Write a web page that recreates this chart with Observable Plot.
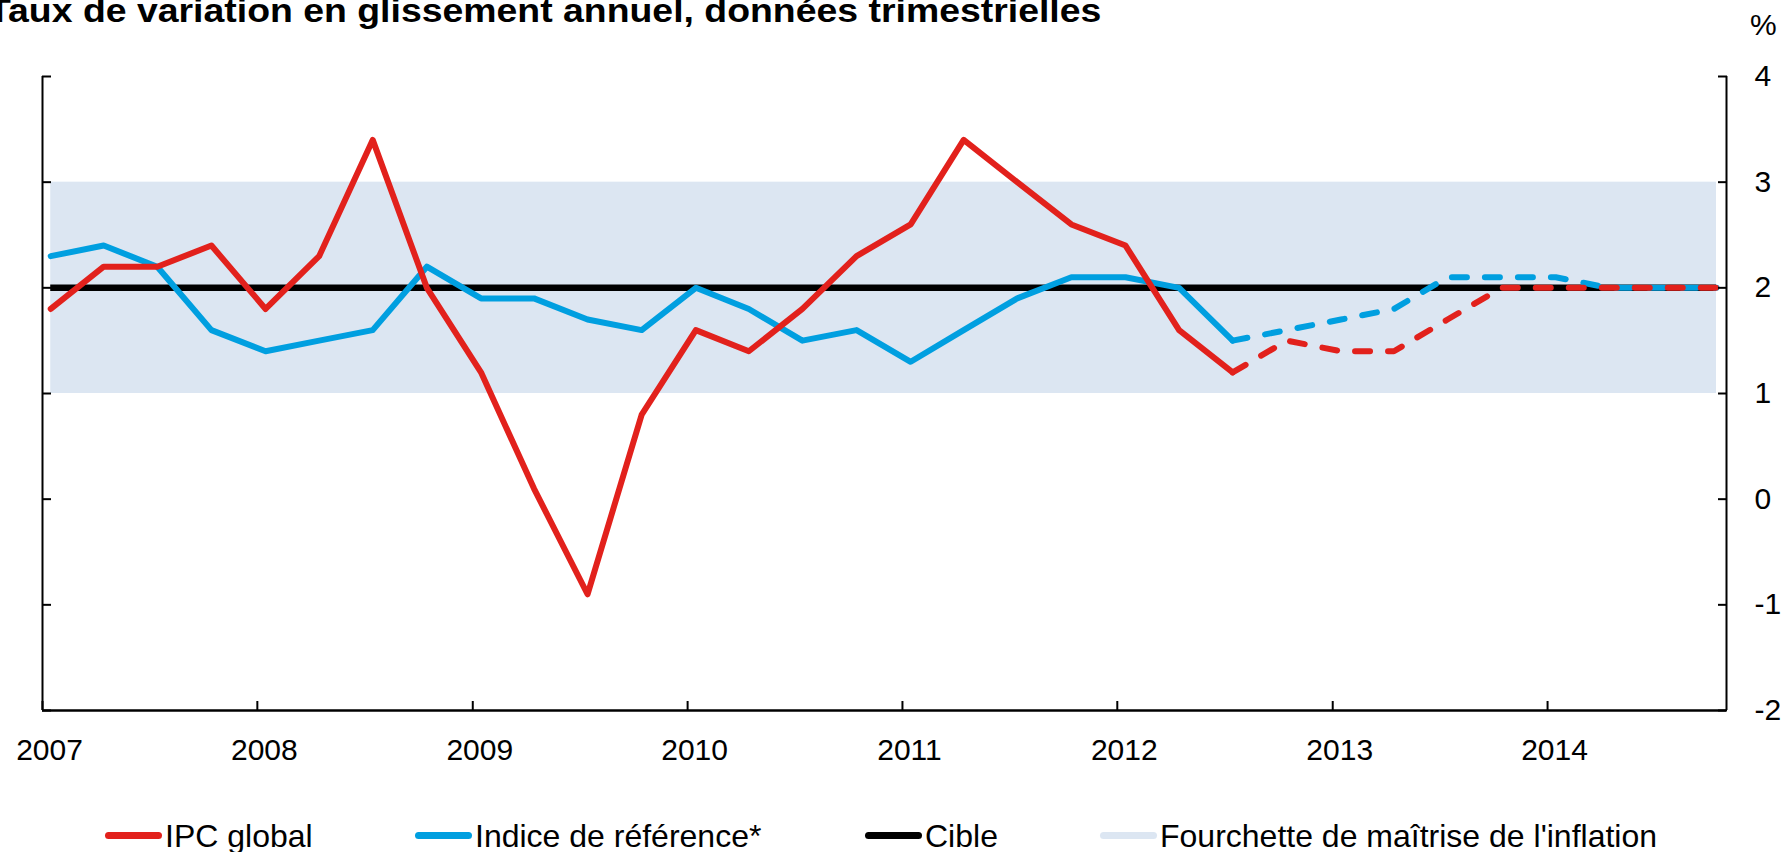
<!DOCTYPE html>
<html>
<head>
<meta charset="utf-8">
<script src="https://cdn.jsdelivr.net/npm/d3@7"></script>
<script src="https://cdn.jsdelivr.net/npm/@observablehq/plot@0.6"></script>
<style>
html,body{margin:0;padding:0;background:#fff;overflow:hidden;}
#wrap{position:relative;width:1783px;height:852px;overflow:hidden;font-family:"Liberation Sans",Arial,Helvetica,sans-serif;color:#000;}
#chart{position:absolute;left:0;top:0;}
#title{position:absolute;left:-12px;top:-7px;font-weight:bold;font-size:34px;line-height:34px;white-space:nowrap;transform-origin:0 0;transform:scaleX(1.10);}
#unit{position:absolute;left:1750px;top:10px;font-size:30px;line-height:30px;}
.leg{position:absolute;top:820px;height:32px;display:flex;align-items:flex-start;font-size:32px;line-height:32px;white-space:nowrap;}
.sw{width:57px;height:7px;border-radius:4px;margin-top:11.5px;margin-right:3px;}
</style>
</head>
<body>
<div id="wrap">
  <div id="chart"></div>
  <div id="title"></div>
  <div id="unit"></div>
  <div id="legend"></div>
</div>
<script>
// ---- data ----
const titleText = "Taux de variation en glissement annuel, données trimestrielles";
const unitText = "%";
const quarters = [
  "2007-01-15","2007-04-15","2007-07-15","2007-10-15",
  "2008-01-15","2008-04-15","2008-07-15","2008-10-15",
  "2009-01-15","2009-04-15","2009-07-15","2009-10-15",
  "2010-01-15","2010-04-15","2010-07-15","2010-10-15",
  "2011-01-15","2011-04-15","2011-07-15","2011-10-15",
  "2012-01-15","2012-04-15","2012-07-15","2012-10-15",
  "2013-01-15","2013-04-15","2013-07-15","2013-10-15",
  "2014-01-15","2014-04-15","2014-07-15","2014-10-15"
];
const ipcGlobal = [1.8,2.2,2.2,2.4, 1.8,2.3,3.4,2.0, 1.2,0.1,-0.9,0.8, 1.6,1.4,1.8,2.3,
                   2.6,3.4,3.0,2.6, 2.4,1.6,1.2,1.5, 1.4,1.4,1.7,2.0, 2.0,2.0,2.0,2.0];
const indiceRef = [2.3,2.4,2.2,1.6, 1.4,1.5,1.6,2.2, 1.9,1.9,1.7,1.6, 2.0,1.8,1.5,1.6,
                   1.3,1.6,1.9,2.1, 2.1,2.0,1.5,1.6, 1.7,1.8,2.1,2.1, 2.1,2.0,2.0,2.0];
const forecastStart = "2012-07-15";   // projections (dashed) from this quarter on
const cible = 2;
const fourchette = [1, 3];
const yTicks = [-2,-1,0,1,2,3,4];
const yearTicks = ["2007","2008","2009","2010","2011","2012","2013","2014"];
const xDomain = ["2007-01-01","2014-11-01"];
const seriesNames = ["IPC global","Indice de référence*","Cible","Fourchette de maîtrise de l'inflation"];
const colors = {ipc:"#e2211c", core:"#009fe0", cible:"#000000", band:"#dce6f2"};

// ---- build ----
const parse = s => new Date(s);
const fStart = parse(forecastStart);
const rows = quarters.map((q,i)=>({date:parse(q), ipc:ipcGlobal[i], core:indiceRef[i]}));
const hist = rows.filter(d=>d.date<=fStart);
const proj = rows.filter(d=>d.date>=fStart);
const first = rows[0].date, last = rows[rows.length-1].date;
const yearDates = yearTicks.map(y=>parse(y+"-01-01"));
const dom = xDomain.map(parse);

const chart = Plot.plot({
  width:1783, height:852,
  marginTop:76, marginRight:57, marginBottom:142, marginLeft:42,
  style:{fontFamily:'"Liberation Sans", Arial, Helvetica, sans-serif', fontSize:"30px", color:"#000", background:"transparent", overflow:"visible"},
  x:{type:"utc", domain:dom, label:null},
  y:{domain:[yTicks[0], yTicks[yTicks.length-1]], label:null},
  marks:[
    Plot.rect([{x1:first,x2:last,y1:fourchette[0],y2:fourchette[1]}], {x1:"x1",x2:"x2",y1:"y1",y2:"y2",fill:colors.band}),
    Plot.ruleY([cible], {x1:first, x2:last, stroke:colors.cible, strokeWidth:6.5}),
    Plot.line(hist, {x:"date", y:"core", stroke:colors.core, strokeWidth:6}),
    Plot.line(hist, {x:"date", y:"ipc", stroke:colors.ipc, strokeWidth:6}),
    Plot.line(proj, {x:"date", y:"core", stroke:colors.core, strokeWidth:6, strokeDasharray:"15,18", strokeLinecap:"round"}),
    Plot.line(proj, {x:"date", y:"ipc", stroke:colors.ipc, strokeWidth:6, strokeDasharray:"15,18", strokeLinecap:"round"}),
    Plot.ruleX([dom[0]], {y1:yTicks[0], y2:yTicks[yTicks.length-1], stroke:"#000", strokeWidth:2}),
    Plot.ruleX([dom[1]], {y1:yTicks[0], y2:yTicks[yTicks.length-1], stroke:"#000", strokeWidth:2}),
    Plot.ruleY([yTicks[0]], {x1:dom[0], x2:dom[1], stroke:"#000", strokeWidth:2.5}),
    Plot.axisY(yTicks, {anchor:"left", tickSize:-9, tickFormat:()=>"", strokeWidth:2, label:null}),
    Plot.axisY(yTicks, {anchor:"right", tickSize:-9, tickPadding:37, strokeWidth:2, fontSize:30, label:null, tickFormat:d=>String(d)}),
    Plot.axisX(yearDates, {anchor:"bottom", tickSize:-9, tickFormat:()=>"", strokeWidth:2, label:null}),
    Plot.axisX(yearDates, {anchor:"bottom", tickSize:0, tickPadding:28, dx:7, fontSize:30, label:null, tickFormat:(d,i)=>yearTicks[i]})
  ]
});
document.getElementById("chart").appendChild(chart);
document.getElementById("title").textContent = titleText;
document.getElementById("unit").textContent = unitText;

const legPos = [105, 415, 865, 1100];
const legCol = [colors.ipc, colors.core, colors.cible, colors.band];
const leg = document.getElementById("legend");
seriesNames.forEach((n,i)=>{
  const d = document.createElement("div");
  d.className = "leg";
  d.style.left = legPos[i]+"px";
  const s = document.createElement("div");
  s.className = "sw"; s.style.background = legCol[i];
  const t = document.createElement("span");
  t.textContent = n;
  d.appendChild(s); d.appendChild(t);
  leg.appendChild(d);
});
</script>
</body>
</html>
